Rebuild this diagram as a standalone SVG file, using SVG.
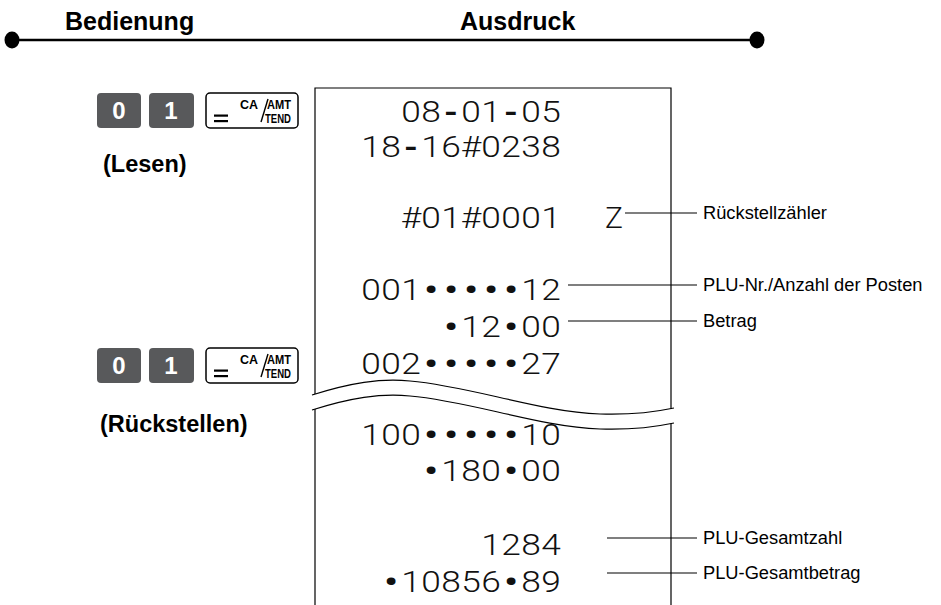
<svg xmlns="http://www.w3.org/2000/svg" width="941" height="605" viewBox="0 0 941 605">
<style>
.hdr{font-family:"Liberation Sans",Arial,sans-serif;font-weight:bold;font-size:25px;fill:#000}
.lbl{font-family:"Liberation Sans",Arial,sans-serif;font-weight:bold;font-size:23.5px;fill:#000}
.key{fill:#58595b}
.kt{font-family:"Liberation Sans",Arial,sans-serif;font-weight:bold;font-size:24px;fill:#fff;text-anchor:middle}
.ca{fill:#fff;stroke:#000;stroke-width:1.5}
.cat{font-family:"Liberation Sans",Arial,sans-serif;font-weight:bold;font-size:12.5px;fill:#000}
.rc{font-family:Roboto,"DejaVu Sans",sans-serif;font-weight:300;font-size:30px;fill:#111;text-anchor:middle}
.b{font-weight:700;font-size:32px}
.d{font-weight:700;font-size:30px}
.note{font-family:"Liberation Sans",Arial,sans-serif;font-size:18.3px;fill:#000}
.ln{stroke:#000;stroke-width:1.2;fill:none}
</style>
<defs>
<g id="cakey">
<rect class="ca" x="0" y="0" width="92" height="35" rx="4"/>
<rect x="8" y="21.5" width="14" height="2.2"/>
<rect x="8" y="27" width="14" height="2.2"/>
<text class="cat" x="34" y="16" textLength="18" lengthAdjust="spacingAndGlyphs">CA</text>
<line x1="62" y1="6" x2="55" y2="29" stroke="#000" stroke-width="1.4"/>
<text class="cat" x="61" y="16" textLength="24" lengthAdjust="spacingAndGlyphs">AMT</text>
<text class="cat" x="59" y="30" textLength="26" lengthAdjust="spacingAndGlyphs">TEND</text>
</g>
</defs>
<g id="header">
<line x1="12" y1="40" x2="757" y2="40" stroke="#000" stroke-width="2.5"/>
<ellipse cx="12" cy="40" rx="7.5" ry="8.5"/>
<ellipse cx="757" cy="40" rx="7.5" ry="8.5"/>
<text class="hdr" x="65" y="30">Bedienung</text>
<text class="hdr" x="460" y="30">Ausdruck</text>
</g>
<g id="keys-read">
<rect class="key" x="97" y="93" width="44" height="35" rx="4"/>
<text class="kt" x="119" y="119">0</text>
<rect class="key" x="149" y="93" width="45" height="35" rx="4"/>
<text class="kt" x="171" y="119">1</text>
<use href="#cakey" x="206" y="93"/>
<text class="lbl" x="103" y="172">(Lesen)</text>
</g>
<g id="keys-reset">
<rect class="key" x="97" y="348" width="44" height="35" rx="4"/>
<text class="kt" x="119" y="374">0</text>
<rect class="key" x="149" y="348" width="45" height="35" rx="4"/>
<text class="kt" x="171" y="374">1</text>
<use href="#cakey" x="206" y="348"/>
<text class="lbl" x="100" y="432">(Rückstellen)</text>
</g>
<g id="receipt">
<path class="ln" d="M315,605 V88 H671 V605"/>
<path d="M312,395 C350,383 380,378 410,381 C470,386 540,412 600,414 C630,415 655,412 674,408 L674,423 C655,427 630,430 600,429 C540,427 470,401 410,396 C380,393 350,398 312,410 Z" fill="#fff"/>
<path class="ln" d="M312,395 C350,383 380,378 410,381 C470,386 540,412 600,414 C630,415 655,412 674,408"/>
<path class="ln" d="M312,410 C350,398 380,393 410,396 C470,401 540,427 600,429 C630,430 655,427 674,423"/>
<g transform="matrix(1.1765 0 0 1 -97.24 0)">
<text class="rc" y="122"><tspan x="432 449">08</tspan><tspan class="d" x="466">-</tspan><tspan x="483 500">01</tspan><tspan class="d" x="517">-</tspan><tspan x="534 551">05</tspan></text>
<text class="rc" y="157"><tspan x="398 415">18</tspan><tspan class="d" x="432">-</tspan><tspan x="449 466 483 500 517 534 551">16#0238</tspan></text>
<text class="rc" y="228" x="432 449 466 483 500 517 534 551">#01#0001</text>
<text class="rc" y="300"><tspan x="398 415 432">001</tspan><tspan class="b" y="301" x="449 466 483 500 517">•••••</tspan><tspan y="300" x="534 551">12</tspan></text>
<text class="rc" y="337"><tspan class="b" y="338" x="466">•</tspan><tspan y="337" x="483 500">12</tspan><tspan class="b" y="338" x="517">•</tspan><tspan y="337" x="534 551">00</tspan></text>
<text class="rc" y="374"><tspan x="398 415 432">002</tspan><tspan class="b" y="375" x="449 466 483 500 517">•••••</tspan><tspan y="374" x="534 551">27</tspan></text>
<text class="rc" y="445"><tspan x="398 415 432">100</tspan><tspan class="b" y="446" x="449 466 483 500 517">•••••</tspan><tspan y="445" x="534 551">10</tspan></text>
<text class="rc" y="481"><tspan class="b" y="482" x="449">•</tspan><tspan y="481" x="466 483 500">180</tspan><tspan class="b" y="482" x="517">•</tspan><tspan y="481" x="534 551">00</tspan></text>
<text class="rc" y="555" x="500 517 534 551">1284</text>
<text class="rc" y="592"><tspan class="b" y="593" x="415">•</tspan><tspan y="592" x="432 449 466 483 500">10856</tspan><tspan class="b" y="593" x="517">•</tspan><tspan y="592" x="534 551">89</tspan></text>
</g>
<text class="rc" x="614" y="228">Z</text>
</g>
<g id="connectors">
<line class="ln" x1="625" y1="213" x2="697" y2="213"/>
<line class="ln" x1="568" y1="285" x2="697" y2="285"/>
<line class="ln" x1="568" y1="321" x2="697" y2="321"/>
<line class="ln" x1="607" y1="538" x2="697" y2="538"/>
<line class="ln" x1="607" y1="573" x2="697" y2="573"/>
</g>
<g id="labels">
<text class="note" x="703" y="219">Rückstellzähler</text>
<text class="note" x="703" y="291">PLU-Nr./Anzahl der Posten</text>
<text class="note" x="703" y="327">Betrag</text>
<text class="note" x="703" y="544">PLU-Gesamtzahl</text>
<text class="note" x="703" y="579">PLU-Gesamtbetrag</text>
</g>
</svg>
